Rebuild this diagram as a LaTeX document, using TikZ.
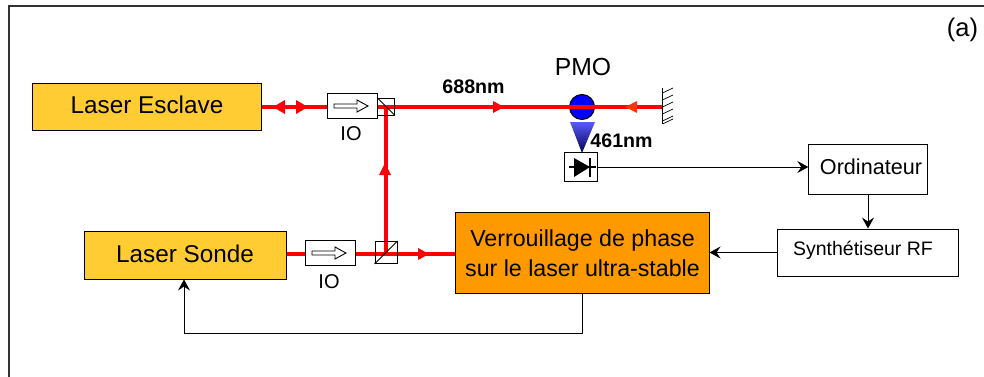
\documentclass[tikz,border=0pt]{standalone}
\usepackage{fontspec}
\setmainfont{Liberation Sans}
\usetikzlibrary{arrows.meta}
\definecolor{laserY}{RGB}{255,204,51}
\definecolor{lockO}{RGB}{255,153,0}
\definecolor{beamR}{RGB}{255,0,0}
\definecolor{frameC}{RGB}{50,50,50}
\definecolor{tipO}{RGB}{255,51,0}
\newcommand{\fs}[1]{\fontsize{#1pt}{#1pt}\selectfont}
\tikzset{
  x=1pt,y=-1pt,
  laserbox/.style={draw=black,line width=1pt,fill=laserY,inner sep=0pt,font=\fs{24.3}},
  whitebox/.style={draw=black,line width=0.9pt,fill=white,inner sep=0pt},
  beam/.style={draw=beamR,line width=3.4pt},
  beamtip/.style={fill=beamR,draw=none},
  wire/.style={draw=black,line width=0.9pt,-{Stealth[length=11pt,width=12pt,inset=4pt]}},
  plain/.style={draw=black,line width=1pt},
  iso/.style={draw=black,fill=white,line width=0.9pt},
  lbl/.style={inner sep=0pt,font=\fs{20}},
  bold/.style={inner sep=0pt,font=\fs{19.6}\bfseries},
}
\begin{document}
\begin{tikzpicture}
\useasboundingbox (0,0) rectangle (984,377);
% frame
\coordinate (fa) at (9,377);
\coordinate (fb) at (9,6);
\coordinate (fc) at (984,6);
\draw[draw=frameC,line width=1.1pt] (fa) -- (fb) -- (fc);
\node[lbl,font=\fs{25.5}] (a) at (962.5,30) {(a)};

% coordinates
\coordinate (mirror) at (662,107);
\coordinate (bs1) at (386,107);
\coordinate (bs2) at (386,254);
\coordinate (pmoc) at (582,107);

% boxes
\node[laserbox,minimum width=229pt,minimum height=47pt] (esclave) at (147,107) {};
\node[laserbox,minimum width=202pt,minimum height=48pt] (sonde) at (185,255) {};
\node[inner sep=0pt,font=\fs{24.3}] (esclavet) at (147,105) {Laser Esclave};
\node[inner sep=0pt,font=\fs{24.3}] (sondet) at (185,254) {Laser Sonde};
\node[draw=black,line width=1pt,fill=lockO,inner sep=0pt,minimum width=254pt,minimum height=81pt] (lock) at (582,253) {};
\node[inner sep=0pt,align=center,font=\fs{23.2}] (lockt) at (582.5,253) {Verrouillage de phase\\[7pt]sur le laser ultra-stable};

\draw[beam] (esclave.east |- bs1) -- (mirror);
\draw[beam] (sonde.east |- bs2) -- (lock.west |- bs2);
\draw[beam] (bs2) -- (bs1);

% arrow tips on beams
\fill[beamtip] (273,107) -- (285,100) -- (285,114) -- cycle;
\fill[beamtip] (308,107) -- (296,100) -- (296,114) -- cycle;
\fill[beamtip] (504,107) -- (493,101) -- (493,113) -- cycle;
\fill[tipO] (625,107) -- (637,101) -- (637,113) -- cycle;
\fill[beamtip] (385,163) -- (379,175) -- (391,175) -- cycle;
\fill[beamtip] (429,254) -- (418,248) -- (418,260) -- cycle;

% isolators
\node[whitebox,minimum width=50pt,minimum height=25pt] (io1) at (352,106) {};
\draw[iso] (334,104) -- (357,104) -- (357,100) -- (368,106) -- (357,112) -- (357,108) -- (334,108) -- cycle;
\node[lbl] (io1t) at (351,134) {IO};
\node[whitebox,minimum width=50pt,minimum height=25pt] (io2) at (330,253) {};
\draw[iso] (312,251) -- (335,251) -- (335,247) -- (346,253) -- (335,259) -- (335,255) -- (312,255) -- cycle;
\node[lbl] (io2t) at (329,282) {IO};

% beam splitters
\node[draw=black,line width=0.9pt,inner sep=0pt,minimum size=17pt] (c1) at (386,106.5) {};
\draw[black,line width=0.9pt] (c1.north west) -- (c1.south east);
\node[draw=black,line width=0.9pt,inner sep=0pt,minimum size=22pt] (c2) at (386,252.5) {};
\draw[black,line width=0.9pt] (c2.south west) -- (c2.north east);

% PMO
\shade[top color=blue!65!white,bottom color=black!70!blue] (570,122) -- (595,122) -- (582,153) -- cycle;
\node[circle,draw=black,line width=1pt,fill=blue,minimum size=25pt,inner sep=0pt] (pmo) at (pmoc) {};
\draw[beamR,line width=3.4pt] (pmo.west) -- (pmo.east);
\node[lbl,font=\fs{24.7}] (pmot) at (583,67) {PMO};
\node[bold] (nm688) at (473.5,87) {688nm};
\node[bold] (nm461) at (621.5,141) {461nm};

% mirror
\draw[plain,line width=0.8pt] (662.5,88) -- (662.5,124);
\foreach \yy in {93,100,107,114,121,124}{
  \draw[black,line width=0.7pt] (662.5,\yy) -- (673,\yy-5);
}

% photodiode
\node[whitebox,minimum width=33pt,minimum height=29pt] (pd) at (581,167) {};
\draw[plain,line width=1.1pt] (569,167) -- (596,167);
\fill[black] (574,158) -- (590,167) -- (574,177) -- cycle;
\draw[plain,line width=1.4pt] (590,158) -- (590,177);

% instruments
\node[whitebox,minimum width=118.5pt,minimum height=50pt] (ordi) at (868,169) {};
\node[inner sep=0pt,font=\fs{21.6}] (orditx) at (871,167) {Ordinateur};
\node[whitebox,minimum width=181pt,minimum height=47pt] (synth) at (867.5,252.5) {};
\node[inner sep=0pt,font=\fs{19.5}] (synthtx) at (863,250) {Synthétiseur RF};

% connectors
\draw[wire] (pd.east) -- (ordi.west |- pd.east);
\draw[wire] (ordi.south) -- (synth.north -| ordi.south);
\draw[wire] (synth.west) -- (lock.east |- synth.west);
\coordinate (fb1) at (582,333);
\coordinate (fb2) at (184,333);
\draw[wire] (lock.south -| fb1) -- (fb1) -- (fb2) -- (sonde.south -| fb2);
\end{tikzpicture}
\end{document}
